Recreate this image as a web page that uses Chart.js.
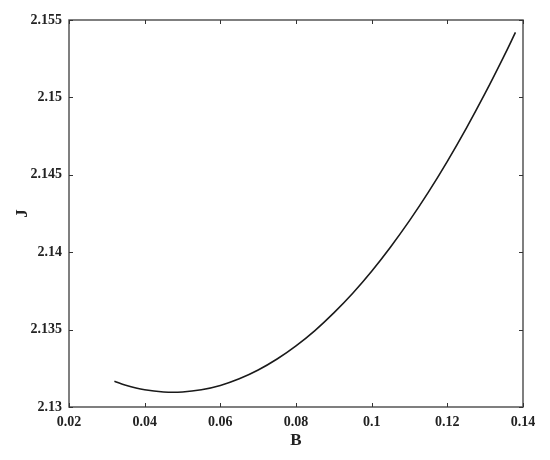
<!DOCTYPE html>
<html>
<head>
<meta charset="utf-8">
<script src="https://cdn.jsdelivr.net/npm/chart.js@4/dist/chart.umd.min.js"></script>
<style>
  html, body { margin: 0; padding: 0; background: #fff; }
  #wrap { width: 550px; height: 460px; }
</style>
</head>
<body>
<div id="wrap"><canvas id="c" width="550" height="460"></canvas></div>
<script>
// values
const bValues = [0.032, 0.035, 0.040, 0.045, 0.050, 0.055, 0.060, 0.065, 0.070, 0.075, 0.080, 0.085, 0.090, 0.095,
                 0.100, 0.105, 0.110, 0.115, 0.120, 0.125, 0.130, 0.135, 0.138];
const jValues = [2.13166, 2.13140, 2.13111, 2.13097, 2.13097, 2.13111, 2.13139, 2.13182, 2.13239, 2.13310, 2.13395, 2.13494, 2.13608, 2.13735,
                 2.13877, 2.14034, 2.14204, 2.14388, 2.14587, 2.14800, 2.15027, 2.15268, 2.1542];
const xTicks = [0.02, 0.04, 0.06, 0.08, 0.1, 0.12, 0.14];
const yTicks = [2.13, 2.135, 2.14, 2.145, 2.15, 2.155];

const tickFont = { family: 'Liberation Serif', size: 14, weight: 'bold' };
const titleFont = { family: 'Liberation Serif', size: 17, weight: 'bold' };
const axisColor = '#555';

// box around the plot and inward ticks on all four sides (matlab style)
const boxTicks = {
  id: 'boxTicks',
  afterDraw(chart) {
    const ctx = chart.ctx;
    const a = chart.chartArea;
    const xs = chart.scales.x, ys = chart.scales.y;
    ctx.save();
    ctx.strokeStyle = axisColor;
    ctx.lineWidth = 1.5;
    ctx.strokeRect(a.left, a.top, a.right - a.left, a.bottom - a.top);
    ctx.lineWidth = 1;
    ctx.strokeStyle = '#333';
    const len = 4;
    ctx.beginPath();
    xTicks.forEach(v => {
      const px = Math.round(xs.getPixelForValue(v)) + 0.5;
      ctx.moveTo(px, a.bottom); ctx.lineTo(px, a.bottom - len);
      ctx.moveTo(px, a.top); ctx.lineTo(px, a.top + len);
    });
    yTicks.forEach(v => {
      const py = Math.round(ys.getPixelForValue(v)) + 0.5;
      ctx.moveTo(a.left, py); ctx.lineTo(a.left + len, py);
      ctx.moveTo(a.right, py); ctx.lineTo(a.right - len, py);
    });
    ctx.stroke();
    ctx.restore();
  }
};

new Chart(document.getElementById('c').getContext('2d'), {
  type: 'line',
  data: {
    datasets: [{
      data: bValues.map((b, i) => ({ x: b, y: jValues[i] })),
      borderColor: '#1a1a1a',
      borderWidth: 1.6,
      pointRadius: 0,
      fill: false,
      tension: 0.4
    }]
  },
  options: {
    responsive: false,
    animation: false,
    layout: { padding: { top: 20, right: 27, left: 0, bottom: 0 } },
    plugins: { legend: { display: false }, tooltip: { enabled: false } },
    scales: {
      x: {
        type: 'linear',
        min: 0.02, max: 0.14,
        afterBuildTicks: s => { s.ticks = xTicks.map(v => ({ value: v })); },
        afterFit: s => { s.height = 53; },
        grid: { display: false, drawTicks: false },
        border: { display: false },
        ticks: { font: tickFont, color: '#222', padding: 7, maxRotation: 0,
          callback: v => String(+v.toFixed(3)) },
        title: { display: true, text: 'B', font: titleFont, color: '#222', padding: { top: 0, bottom: 9 } }
      },
      y: {
        type: 'linear',
        min: 2.13, max: 2.155,
        afterBuildTicks: s => { s.ticks = yTicks.map(v => ({ value: v })); },
        afterFit: s => { s.width = 69; },
        grid: { display: false, drawTicks: false },
        border: { display: false },
        ticks: { font: tickFont, color: '#222', padding: 7,
          callback: v => String(+v.toFixed(3)) },
        title: { display: true, text: 'J', font: titleFont, color: '#222', padding: { top: 12, bottom: 0 } }
      }
    }
  },
  plugins: [boxTicks]
});
</script>
</body>
</html>
